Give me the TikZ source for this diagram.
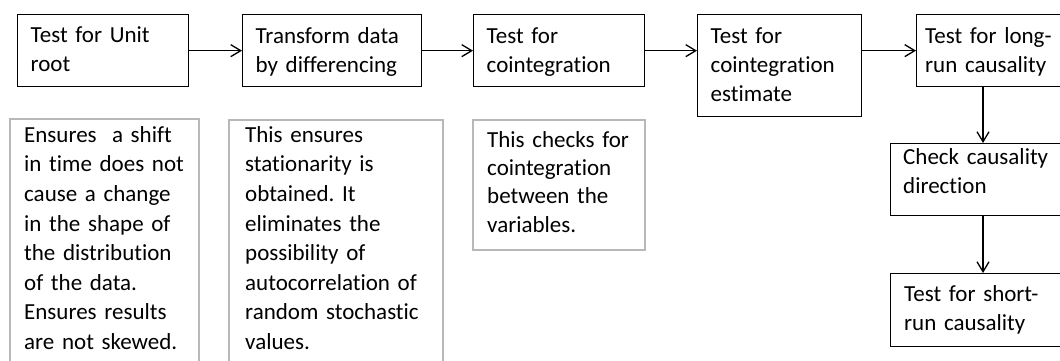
\documentclass[tikz,border=0pt]{standalone}
\usepackage{fontspec}
\setmainfont[Ligatures={NoCommon,NoRare,NoContextual}]{Carlito}
\usetikzlibrary{arrows.meta}
\frenchspacing
\tikzset{
  stepbox/.style={draw=black, line width=1.3pt, fill=white, minimum width=#1, inner sep=0pt, anchor=north west},
  notebox/.style={draw=black!28, line width=1.8pt},
  txt/.style={anchor=base west, inner sep=0pt, text width=220pt, align=left, font=\fontsize{23}{29}\selectfont},
  txtg/.style={txt, font=\fontsize{23}{29.6}\selectfont},
  flow/.style={line width=1.3pt, -{Straight Barb[length=10pt,width=12pt,line width=1.3pt]}}
}
\begin{document}
\begin{tikzpicture}[x=1pt,y=-1pt]
\useasboundingbox (0,0) rectangle (1060,360);
\clip (0,0) rectangle (1060,360);
\fill[white] (0,0) rectangle (1060,360);
% step boxes
\node[stepbox=171pt, minimum height=72pt] (b1) at (17,14) {};
\node[stepbox=179pt, minimum height=72pt] (b2) at (242,14) {};
\node[stepbox=171pt, minimum height=72pt] (b3) at (473,14) {};
\node[stepbox=164pt, minimum height=102pt] (b4) at (697,14) {};
\node[stepbox=160pt, minimum height=72pt] (b5) at (916,14) {};
\node[stepbox=186pt, minimum height=72pt] (b6) at (890,143) {};
\node[stepbox=186pt, minimum height=73pt] (b7) at (890,273) {};
% note boxes
\coordinate (gAtl) at (10,119);
\coordinate (gAbr) at (199,378);
\coordinate (gBtl) at (229,120);
\coordinate (gBbr) at (443,378);
\coordinate (gCtl) at (473,120);
\coordinate (gCbr) at (645,250);
\draw[notebox] (gAtl) rectangle (gAbr);
\draw[notebox] (gBtl) rectangle (gBbr);
\draw[notebox] (gCtl) rectangle (gCbr);
% texts
\node[txt] (t1) at (30.5,42.5) {Test for Unit\\root};
\node[txt] (t2) at (255.5,43) {Transform data\\by differencing};
\node[txt] (t3) at (486.5,43) {Test for\\cointegration};
\node[txt] (t4) at (710.5,43) {Test for\\cointegration\\estimate};
\node[txt] (t5) at (925,43) {Test for long-\\run causality};
\node[txt] (t6) at (903,164) {Check causality\\direction};
\node[txt] (t7) at (904,301.5) {Test for short-\\run causality};
\node[txtg] (tA) at (24,142.3) {Ensures~ a shift\\in time does not\\cause a change\\in the shape of\\the distribution\\of the data.\\Ensures results\\are not skewed.};
\node[txtg] (tB) at (245,142.3) {This ensures\\stationarity is\\obtained. It\\eliminates the\\possibility of\\autocorrelation of\\random stochastic\\values.};
\node[txt, font=\fontsize{23}{28.3}\selectfont] (tC) at (487,147.3) {This checks for\\cointegration\\between the\\variables.};
% connectors
\coordinate (vx) at (983,0);
\draw[flow] (b1.east) -- (b2.west);
\draw[flow] (b2.east) -- (b3.west);
\draw[flow] (b3.east) -- (b3.east -| b4.west);
\draw[flow] (b4.east |- b5.west) -- (b5.west);
\draw[flow] (b5.south -| vx) -- (b6.north -| vx);
\draw[flow] (b6.south -| vx) -- (b7.north -| vx);
\end{tikzpicture}
\end{document}
